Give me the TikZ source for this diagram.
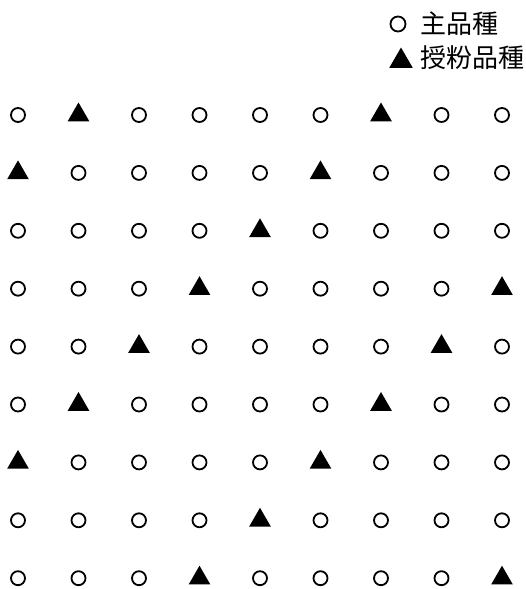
\documentclass[tikz,border=0pt]{standalone}
\usepackage{fontspec}
\newfontfamily\jpfont{Noto Sans CJK JP}
\usetikzlibrary{
    positioning,
    shapes.geometric
}

\begin{document}
\begin{tikzpicture}[
    x=1pt, y=-1pt,
    mainvar/.style={circle, draw, line width=1.8pt, minimum size=14pt, inner sep=0pt},
    pollvar/.style={regular polygon, regular polygon sides=3, fill=black, minimum size=25pt, inner sep=0pt},
    legendtext/.style={font=\jpfont\fontsize{26}{26}\selectfont, inner sep=0pt, anchor=west}
]
\useasboundingbox (0,0) rectangle (526,589);
% legend
\node[mainvar, minimum size=15pt] (keymain) at (398,24) {};
\node[legendtext, right=14pt of keymain] (keymaintext) {主品種};
\node[pollvar, minimum size=27pt] (keypoll) at (401,61) {};
\node[legendtext, anchor=west] (keypolltext) at (keymaintext.west |- 0,58) {授粉品種};

% planting grid
\foreach \r in {1,...,9}{
    \foreach \c in {1,...,9}{
        \pgfmathtruncatemacro{\k}{mod(\r+\c,5)}
        \ifnum\k=3
            \node[pollvar] (p-\r-\c) at ({18+60.5*(\c-1)},{115+57.9*(\r-1)}) {};
        \else
            \node[mainvar] (p-\r-\c) at ({18+60.5*(\c-1)},{115+57.9*(\r-1)}) {};
        \fi
    }
}
\end{tikzpicture}
\end{document}
